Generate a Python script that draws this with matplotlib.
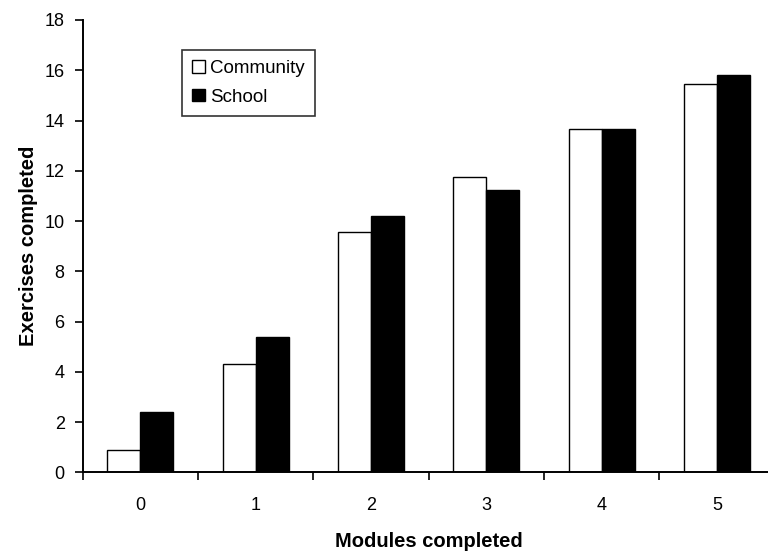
import matplotlib
matplotlib.use("Agg")
import matplotlib.pyplot as plt
import numpy as np

plt.rcParams['font.family'] = ['Liberation Sans', 'DejaVu Sans']

modules = ["0", "1", "2", "3", "4", "5"]
community = [0.89, 4.3, 9.55, 11.75, 13.65, 15.44]
school = [2.40, 5.37, 10.18, 11.24, 13.65, 15.81]
y_ticks = [0, 2, 4, 6, 8, 10, 12, 14, 16, 18]

fig = plt.figure(figsize=(7.68, 5.53), dpi=100)
ax = fig.add_axes([82.7 / 768, 80.7 / 553, 692 / 768, 452.3 / 553])

x = np.arange(len(modules))
w = 0.285
ax.bar(x - w / 2, community, width=w, color="white", edgecolor="black",
       linewidth=1.0, label="Community")
ax.bar(x + w / 2, school, width=w, color="black", edgecolor="black",
       linewidth=1.0, label="School")

ax.set_xlim(-0.5, len(modules) - 0.5)
ax.set_ylim(0, 18)
ax.set_yticks(y_ticks)
ax.set_xticks(x)
ax.set_xticklabels(modules)
ax.set_xticks(np.arange(len(modules) + 1) - 0.5, minor=True)
ax.tick_params(axis="x", which="major", length=0, pad=18, labelsize=13)
ax.tick_params(axis="x", which="minor", length=6, width=1.2, direction="out")
ax.tick_params(axis="y", length=6, width=1.2, direction="out", labelsize=13, pad=7)

for s in ("top", "right"):
    ax.spines[s].set_visible(False)
for s in ("left", "bottom"):
    ax.spines[s].set_linewidth(1.4)

ax.set_xlabel("Modules completed", fontsize=14.5, fontweight="bold", labelpad=13)
ax.set_ylabel("Exercises completed", fontsize=14.5, fontweight="bold", labelpad=5)

leg = ax.legend(loc="upper left", bbox_to_anchor=((182 - 82.7) / 692, (472.3 - 50) / 452.3),
                frameon=True, fancybox=False, edgecolor="black", fontsize=13.5,
                handlelength=0.65, handleheight=0.65, handletextpad=0.3,
                labelspacing=0.6, borderpad=0.55, borderaxespad=0)
leg.get_frame().set_linewidth(1.2)

fig.savefig("out.png", dpi=100)
